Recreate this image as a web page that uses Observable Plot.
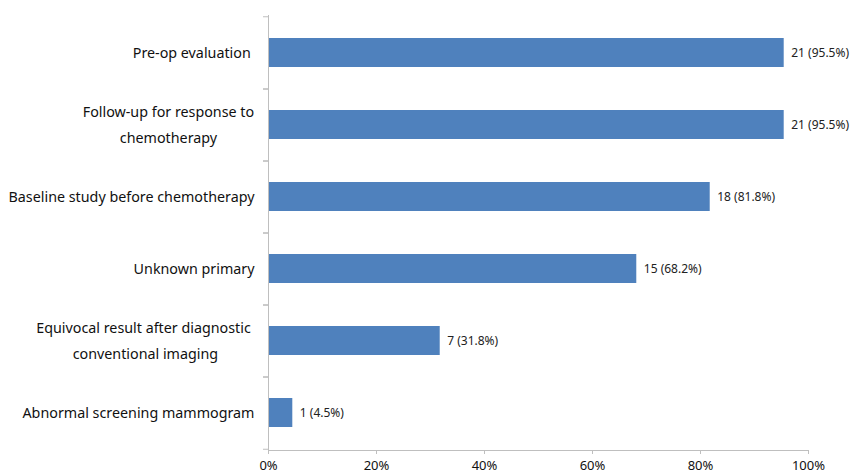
<!DOCTYPE html>
<html>
<head>
<meta charset="utf-8">
<script src="https://cdn.jsdelivr.net/npm/d3@7"></script>
<script src="https://cdn.jsdelivr.net/npm/@observablehq/plot@0.6"></script>
<style>
  html, body { margin: 0; padding: 0; background: #fff; }
</style>
</head>
<body>
<div id="chart"></div>
<script>
const categories = [
  "Pre-op evaluation\u00a0",
  "Follow-up for response to\nchemotherapy",
  "Baseline study before chemotherapy",
  "Unknown primary",
  "Equivocal result after diagnostic\u00a0\nconventional imaging",
  "Abnormal screening mammogram"
];
const counts = [21, 21, 18, 15, 7, 1];
const percents = [95.5, 95.5, 81.8, 68.2, 31.8, 4.5];
const xTicks = [0, 20, 40, 60, 80, 100];

const data = categories.map((c, i) => ({
  cat: c,
  pct: percents[i],
  label: `${counts[i]} (${percents[i].toFixed(1)}%)`
}));

const halfStep = 36.25;

const chart = Plot.plot({
  width: 852,
  height: 475,
  marginLeft: 268,
  marginRight: 44,
  marginTop: 15,
  marginBottom: 25,
  style: { fontFamily: "'Noto Sans', sans-serif", background: "#fff", color: "#111" },
  x: { domain: [0, 100] },
  y: { domain: categories, paddingInner: 0.6, paddingOuter: 0.3 },
  marks: [
    Plot.barX(data, { x: "pct", y: "cat", fill: "#4F81BD" }),
    Plot.text(data, { x: "pct", y: "cat", text: "label", textAnchor: "start", dx: 7, fontSize: 12, fill: "#222" }),
    Plot.ruleX([0], { stroke: "#bfbfbf" }),
    Plot.frame({ anchor: "bottom", stroke: "#bfbfbf" }),
    Plot.axisX({ ticks: xTicks, tickFormat: d => d + "%", tickSize: 4, tickPadding: 6, stroke: "#bfbfbf", fill: "#111", fontSize: 13, label: null }),
    Plot.axisY({ tickSize: 0, tickPadding: 14, fontSize: 14.3, lineHeight: 1.8, dy: -3, fill: "#111", label: null }),
    Plot.axisY({ text: null, tickSize: 5, dy: -halfStep, stroke: "#bfbfbf", label: null }),
    Plot.axisY({ text: null, tickSize: 5, dy: halfStep, stroke: "#bfbfbf", label: null })
  ]
});

document.getElementById("chart").appendChild(chart);

// center multi-line category labels within their right-aligned block
chart.querySelectorAll('g[aria-label="y-axis tick label"] text').forEach(t => {
  if (t.querySelectorAll("tspan").length > 1) {
    const w = t.getBBox().width;
    t.setAttribute("text-anchor", "middle");
    t.style.textAnchor = "middle";
    const tr = t.getAttribute("transform") || "";
    t.setAttribute("transform", `${tr} translate(${-w / 2},0)`);
  }
});
</script>
</body>
</html>
